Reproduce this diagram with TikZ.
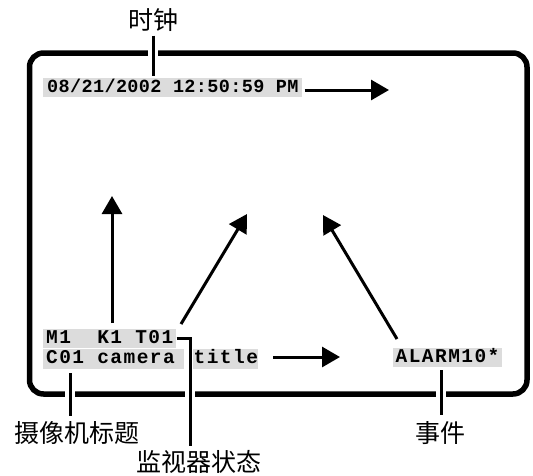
\documentclass[tikz,border=0pt]{standalone}
\usepackage{fontspec}
\usetikzlibrary{arrows.meta}
\newfontfamily\cjk{Noto Sans CJK SC}
\newfontfamily\monoA{Liberation Mono}[LetterSpace=2]
\newfontfamily\monoB{Liberation Mono}[LetterSpace=7.4]
\definecolor{scrgray}{HTML}{DCDCDC}
\begin{document}
\begin{tikzpicture}[x=1pt,y=-1pt,
  frame/.style={line width=5.5pt, rounded corners=14pt},
  scrA/.style={fill=scrgray, inner xsep=4pt, inner ysep=0pt, text height=14pt, text depth=5pt,
    font=\monoA\bfseries\fontsize{18.5}{18.5}\selectfont, anchor=base west},
  scrB/.style={fill=scrgray, inner xsep=3pt, inner ysep=0pt, text height=14pt, text depth=5pt,
    font=\monoB\bfseries\fontsize{19.5}{19.5}\selectfont, anchor=base west},
  lbl/.style={font=\cjk\fontsize{25}{25}\selectfont, inner sep=0pt, text height=21pt, text depth=2pt},
  conn/.style={line width=3pt},
  halo/.style={draw=white, line width=10pt},
  arr/.style={line width=3pt, -{Triangle[length=18pt,width=20pt]}}
]
\useasboundingbox (0,0) rectangle (533,475);
% screen frame
\draw[frame] (29.5,53) rectangle (527,394);
% screen texts
\node[scrA] (date) at (43,92) {08/21/2002 12:50:59 PM};
\node[scrB] (mrow) at (43,343) {M1\ \ K1 T01};
\node[scrB, text depth=6pt] (crow) at (43,363) {C01\ camera\kern6pt};
\node[scrB, inner xsep=0.5pt, text depth=6pt] (title) at (193,363) {title};
\node[scrB, inner xsep=2.5pt] (alarm) at (393,362) {ALARM10*};
% labels
\node[lbl] (clk) at (153,20) {时钟};
\node[lbl] (camlbl) at (77,433) {摄像机标题};
\node[lbl] (monlbl) at (199,462) {监视器状态};
\node[lbl] (evtlbl) at (440,433) {事件};
% coordinates
\coordinate (camtop) at (70,373);
\coordinate (monx) at (190,338.5);
\coordinate (evtop) at (441,370);
\coordinate (a1s) at (112,323);
\coordinate (a1e) at (112,196);
\coordinate (a2s) at (181,324);
\coordinate (a2e) at (247,214);
\coordinate (a3s) at (397,339);
\coordinate (a3e) at (323,215);
\coordinate (dae) at (389,90);
\coordinate (bas) at (273,357);
\coordinate (bae) at (340,357);
% halos where label lines cross the frame
\draw[halo] (153,46) -- (153,60);
\draw[halo] (70,387) -- (70,401);
\draw[halo] (190,387) -- (190,401);
\draw[halo] (441,387) -- (441,401);
% label lines
\draw[conn, shorten <=4pt, shorten >=2pt] (clk.south) -- (clk.south |- date.north);
\draw[conn, shorten >=5pt] (camtop) -- (camtop |- camlbl.north);
\draw[conn, shorten >=4pt] (mrow.east) -- (monx) -- (monx |- monlbl.north);
\draw[conn, shorten >=6pt] (evtop) -- (evtop |- evtlbl.north);
% arrows
\draw[arr] (date.east |- dae) ++(2,0) -- (dae);
\draw[arr] (bas) -- (bae);
\draw[arr] (a1s) -- (a1e);
\draw[arr] (a2s) -- (a2e);
\draw[arr] (a3s) -- (a3e);
\end{tikzpicture}
\end{document}
